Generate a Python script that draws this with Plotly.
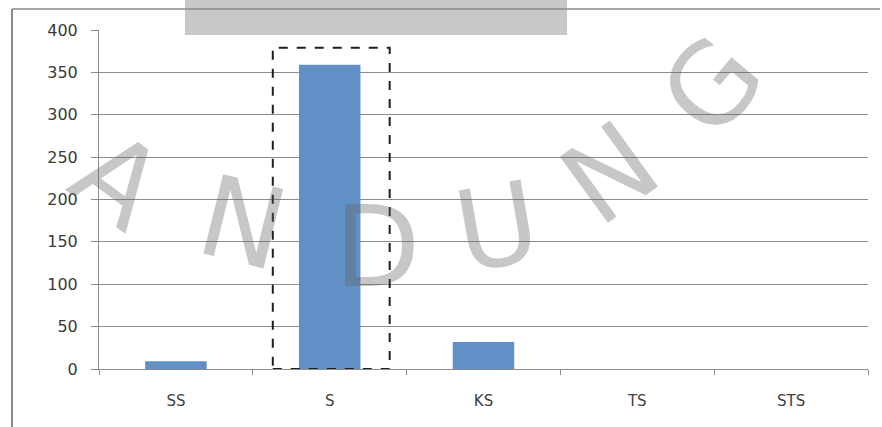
import plotly.graph_objects as go

categories = ["SS", "S", "KS", "TS", "STS"]
values = [9, 359, 32, 0, 0]
y_ticks = [0, 50, 100, 150, 200, 250, 300, 350, 400]

# highlight box around the "S" bar (category coords / value coords)
box_x = [0.63, 1.39]
box_y = [0, 379]

# watermark letters: (text, px_x, px_y, angle)
watermark = [("A", 118, 180, 36), ("N", 243, 223, 14), ("D", 377, 247, 0),
             ("U", 497, 227, -10), ("N", 610, 173, -36), ("G", 712, 86, -50)]

L, R, T, B = 99, 14, 30, 58
W, H = 882, 427
pw, ph = W - L - R, H - T - B

def px(x):
    return (x - L) / pw

def py(y):
    return (H - B - y) / ph

fig = go.Figure()
fig.add_trace(go.Bar(x=categories, y=values, marker_color="#6190C6",
                     marker_line_width=0, width=0.4, hoverinfo="skip"))

shapes = [
    # top grey band
    dict(type="rect", xref="paper", yref="paper", x0=px(185), x1=px(567),
         y0=py(35), y1=py(-5), fillcolor="#c8c8c8", line_width=0, layer="below"),
    # outer frame
    dict(type="line", xref="paper", yref="paper", x0=px(12), x1=px(12),
         y0=py(9), y1=py(430), line=dict(color="#8a8a8a", width=2), layer="below"),
    dict(type="line", xref="paper", yref="paper", x0=px(12), x1=px(880),
         y0=py(9), y1=py(9), line=dict(color="#8a8a8a", width=1.5), layer="below"),
    # dashed highlight box
    dict(type="rect", xref="x", yref="y", x0=box_x[0], x1=box_x[1],
         y0=box_y[0], y1=box_y[1], line=dict(color="#1e1e1e", width=2, dash="dash"),
         fillcolor="rgba(0,0,0,0)"),
]

annotations = []
for t, x, y, a in watermark:
    annotations.append(dict(text=t, xref="paper", yref="paper", x=px(x), y=py(y),
                            xanchor="center", yanchor="middle", showarrow=False,
                            textangle=a,
                            font=dict(family="DejaVu Sans", size=112,
                                      color="rgba(100,100,100,0.36)")))

fig.update_layout(
    width=W, height=H,
    margin=dict(l=L, r=R, t=T, b=B),
    paper_bgcolor="white", plot_bgcolor="rgba(0,0,0,0)",
    showlegend=False,
    bargap=0.6,
    shapes=shapes,
    annotations=annotations,
    font=dict(family="DejaVu Sans", color="#404040"),
)
fig.update_yaxes(range=[0, 400], tickvals=y_ticks, showgrid=True,
                 gridcolor="#8c8c8c", gridwidth=1, zeroline=False,
                 showline=True, linecolor="#8c8c8c", linewidth=1,
                 ticks="outside", ticklen=7, tickcolor="#8c8c8c",
                 ticklabelstandoff=10,
                 tickfont=dict(family="DejaVu Sans", size=16, color="#3a3a3a"))
fig.update_xaxes(showgrid=False, showline=True, linecolor="#8c8c8c", linewidth=1,
                 ticks="outside", tickson="boundaries", ticklen=5, tickcolor="#8c8c8c",
                 ticklabelstandoff=18,
                 tickfont=dict(family="DejaVu Sans", size=15, color="#404040"),
                 range=[-0.5, 4.5])

fig.write_html("out.html")
